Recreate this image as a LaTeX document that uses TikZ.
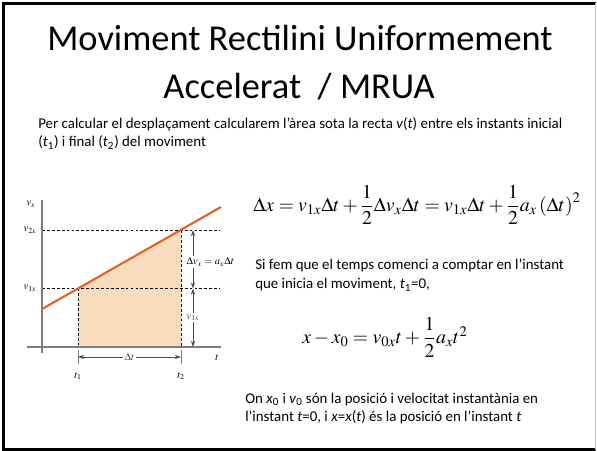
\documentclass[tikz,border=0pt]{standalone}
\usepackage{amsmath}
\usepackage{mathptmx}
\usepackage[no-math]{fontspec}
\setmainfont{Carlito}
\usetikzlibrary{arrows.meta, positioning, calc}
\definecolor{lineorange}{RGB}{228,98,35}
\definecolor{areafill}{RGB}{249,219,190}
\definecolor{axisgray}{RGB}{125,125,125}

\begin{document}
\begin{tikzpicture}[
  x=0.025cm, y=-0.025cm,
  title/.style={font=\fontsize{25.9}{31}\selectfont, anchor=base, inner sep=0pt},
  body/.style={font=\fontsize{10.6}{13}\selectfont, anchor=base west, inner sep=0pt},
  eq/.style={anchor=west, inner sep=0pt},
  lbl/.style={font=\fontsize{7.5}{9}\selectfont, inner sep=1pt},
  axis/.style={axisgray, line width=1.2pt},
  guide/.style={dash pattern=on 2pt off 1.5pt, line width=0.4pt},
  dim/.style={{Stealth[length=1.5mm, width=1mm]}-{Stealth[length=1.5mm, width=1mm]}, line width=0.4pt, black!70}
]
\useasboundingbox (0,0) rectangle (597,451);

% Slide frame
\draw[line width=2.2pt] (596,3.5) -- (3.5,3.5) -- (3.5,449.5) -- (596,449.5);
\draw[black!25, line width=1pt] (595.5,3.5) -- (595.5,449.5);

% Title
\node[title] (title1) at (300,51) {Moviment Rectilini Uniformement};
\node[title] (title2) at (299,99) {Accelerat\ \ / MRUA};

% Intro text
\node[body] (intro1) at (38,129) {Per calcular el desplaçament calcularem l’àrea sota la recta \emph{v}(\emph{t}) entre els instants inicial};
\node[body] (intro2) at (38,147) {(\emph{t}\textsubscript{1}) i final (\emph{t}\textsubscript{2}) del moviment};

% Graph points
\coordinate (O) at (42,347);
\coordinate (p1) at (78,288.5);
\coordinate (p2) at (181,230);
\coordinate (t1) at (78,347);
\coordinate (t2) at (181,347);

% Area under v(t)
\fill[areafill] (t1) -- (p1) -- (p2) -- (t2) -- cycle;

% Dashed guides
\draw[guide] (42,230) -- (220,230);
\draw[guide] (42,288.5) -- (220,288.5);
\draw[guide] (p1) -- (t1);
\draw[guide] (p2) -- (t2);

% Axes
\draw[axis] (42,200) -- (42,353);
\draw[axis] (27,347) -- (221,347);
\draw[axisgray, line width=0.5pt] (78,350) -- (78,364);
\draw[axisgray, line width=0.5pt] (181,350) -- (181,364);

% v(t)
\draw[lineorange, line width=1.5pt] (42,309) -- (221,207);

% Axis labels
\node[lbl] (vx) at (31,204) {$v_x$};
\node[lbl] (v2x) at (30,230) {$v_{2x}$};
\node[lbl] (v1x) at (30,288.5) {$v_{1x}$};
\node[lbl] (tlab) at (217,358) {$t$};
\node[lbl] (t1lab) at (78,376) {$t_1$};
\node[lbl] (t2lab) at (181,376) {$t_2$};

% Dimension arrows
\draw[dim] (78,357) -- node[lbl, fill=white] (dt) {$\Delta t$} (181,357);
\draw[dim] (193,230) -- (193,288.5);
\node[lbl, fill=white, anchor=west] (dvx) at (185,262) {$\Delta v_x = a_x\Delta t$};
\draw[dim] (193,288.5) -- node[lbl, fill=white] (v1xr) {$v_{1x}$} (193,347);

% Displacement
\node[eq, font=\fontsize{14}{16}\selectfont] (eqdx) at (253,205) {$\Delta x = v_{1x}\Delta t + \dfrac{1}{2}\Delta v_x\Delta t = v_{1x}\Delta t + \dfrac{1}{2}a_x\left(\Delta t\right)^2$};

% Starting at t1 = 0
\node[body] (start1) at (255,270) {Si fem que el temps comenci a comptar en l’instant};
\node[body] (start2) at (255,289) {que inicia el moviment, \emph{t}\textsubscript{1}=0,};

\node[eq, font=\fontsize{14}{16}\selectfont] (eqx) at (302,337) {$x - x_0 = v_{0x}t + \dfrac{1}{2}a_x t^2$};

% Note
\node[body] (note1) at (245,403) {On \emph{x}\textsubscript{0} i \emph{v}\textsubscript{0} són la posició i velocitat instantània en};
\node[body] (note2) at (245,421) {l’instant \emph{t}=0, i \emph{x}=\emph{x}(\emph{t}) és la posició en l’instant \emph{t}};
\end{tikzpicture}
\end{document}
